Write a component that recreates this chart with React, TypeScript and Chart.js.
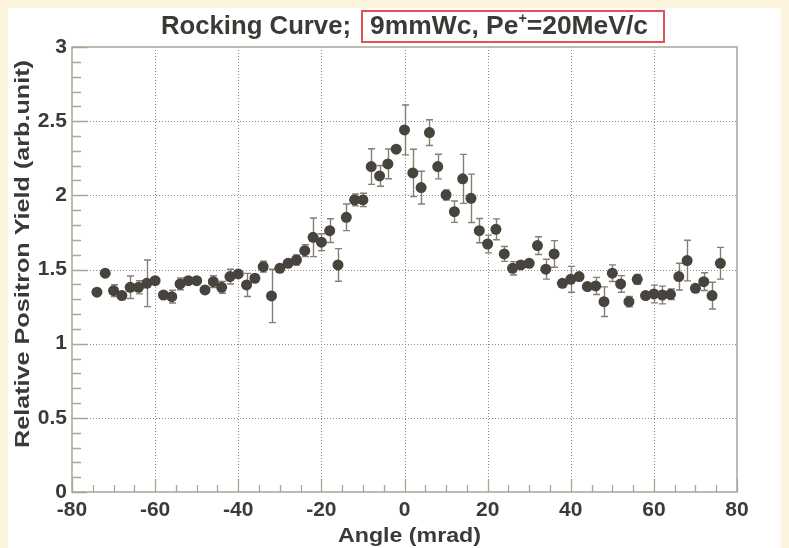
import { useEffect, useRef } from 'react';
import { Chart, registerables } from 'chart.js';

Chart.register(...registerables);

// ---- data ----
const angles = [
  -74, -72, -70, -68, -66, -64, -62, -60, -58, -56, -54, -52, -50, -48, -46, -44, -42, -40, -38,
  -36, -34, -32, -30, -28, -26, -24, -22, -20, -18, -16, -14, -12, -10, -8, -6, -4, -2, 0,
  2, 4, 6, 8, 10, 12, 14, 16, 18, 20, 22, 24, 26, 28, 30, 32, 34, 36, 38,
  40, 42, 44, 46, 48, 50, 52, 54, 56, 58, 60, 62, 64, 66, 68, 70, 72, 74, 76,
];
const yields = [
  1.347, 1.475, 1.357, 1.324, 1.38, 1.38, 1.407, 1.425, 1.328, 1.317, 1.403, 1.425, 1.425, 1.362, 1.418, 1.38, 1.452, 1.47, 1.396,
  1.441, 1.519, 1.322, 1.508, 1.542, 1.564, 1.627, 1.717, 1.684, 1.762, 1.531, 1.852, 1.969, 1.969, 2.194, 2.131, 2.212, 2.311, 2.441,
  2.151, 2.052, 2.423, 2.194, 2.003, 1.89, 2.111, 1.98, 1.762, 1.672, 1.771, 1.605, 1.508, 1.531, 1.542, 1.661, 1.502, 1.605, 1.407,
  1.434, 1.452, 1.385, 1.389, 1.283, 1.475, 1.403, 1.283, 1.434, 1.324, 1.335, 1.328, 1.333, 1.452, 1.56, 1.373, 1.418, 1.324, 1.542,
];
const errors = [
  0.02, 0.02, 0.04, 0.02, 0.076, 0.044, 0.157, 0.02, 0.02, 0.043, 0.04, 0.02, 0.02, 0.02, 0.04, 0.04, 0.05, 0.02, 0.078,
  0.02, 0.037, 0.18, 0.02, 0.02, 0.034, 0.04, 0.13, 0.057, 0.08, 0.11, 0.09, 0.04, 0.045, 0.12, 0.07, 0.1, 0.02, 0.168,
  0.16, 0.11, 0.087, 0.083, 0.034, 0.072, 0.165, 0.163, 0.082, 0.06, 0.07, 0.05, 0.045, 0.02, 0.02, 0.06, 0.067, 0.09, 0.02,
  0.087, 0.02, 0.02, 0.058, 0.1, 0.056, 0.056, 0.035, 0.033, 0.02, 0.06, 0.06, 0.036, 0.09, 0.137, 0.02, 0.06, 0.09, 0.107,
];
const xTickValues = [-80, -60, -40, -20, 0, 20, 40, 60, 80];
const yTickValues = [0, 0.5, 1, 1.5, 2, 2.5, 3];
const xMinorStep = 5;
const yMinorStep = 0.1;

const titleLead = 'Rocking Curve;';
const titleBoxed = '9mmWc, Pe';
const titleSup = '+';
const titleTail = '=20MeV/c';
const xTitle = 'Angle (mrad)';
const yTitle = 'Relative Positron Yield (arb.unit)';

// ---- styles ----
const FAMILY = '"Liberation Sans", Arial, Helvetica, sans-serif';
const TEXT = '#3b3a36';
const MARK = '#46443c';
const FRAME = '#aaa597';
const GRID = '#8e8c86';
const ERR = '#857f73';

type Part = { text: string; font: string; dy: number };

function drawStretched(ctx: CanvasRenderingContext2D, parts: Part[], x: number, y: number, targetW: number) {
  let w = 0;
  for (const p of parts) {
    ctx.font = p.font;
    w += ctx.measureText(p.text).width;
  }
  const sx = targetW / w;
  ctx.save();
  ctx.translate(x, y);
  ctx.scale(sx, 1);
  ctx.textAlign = 'left';
  ctx.textBaseline = 'alphabetic';
  let cx = 0;
  for (const p of parts) {
    ctx.font = p.font;
    ctx.fillText(p.text, cx, p.dy);
    cx += ctx.measureText(p.text).width;
  }
  ctx.restore();
  return sx;
}

const rootPlugin = {
  id: 'rootStyle',
  beforeDatasetsDraw(chart: any) {
    const { ctx, chartArea: a } = chart;
    const xs = chart.scales.x;
    const ys = chart.scales.y;
    ctx.save();
    // dotted grid
    ctx.strokeStyle = GRID;
    ctx.lineWidth = 1;
    ctx.setLineDash([1, 2]);
    ctx.beginPath();
    for (const v of xTickValues.slice(1, -1)) {
      const px = Math.round(xs.getPixelForValue(v)) + 0.5;
      ctx.moveTo(px, a.top);
      ctx.lineTo(px, a.bottom);
    }
    for (const v of yTickValues.slice(1, -1)) {
      const py = Math.round(ys.getPixelForValue(v)) + 0.5;
      ctx.moveTo(a.left, py);
      ctx.lineTo(a.right, py);
    }
    ctx.stroke();
    ctx.setLineDash([]);

    // inside ticks
    ctx.strokeStyle = FRAME;
    ctx.lineWidth = 1.3;
    ctx.beginPath();
    const x0 = xTickValues[0];
    const x1 = xTickValues[xTickValues.length - 1];
    for (let v = x0; v <= x1 + 1e-9; v += xMinorStep) {
      const major = xTickValues.includes(v);
      const px = Math.round(xs.getPixelForValue(v)) + 0.5;
      ctx.moveTo(px, a.bottom);
      ctx.lineTo(px, a.bottom - (major ? 13 : 7));
    }
    const y0 = yTickValues[0];
    const y1 = yTickValues[yTickValues.length - 1];
    for (let i = 0; y0 + i * yMinorStep <= y1 + 1e-9; i++) {
      const v = y0 + i * yMinorStep;
      const major = i % 5 === 0;
      const py = Math.round(ys.getPixelForValue(v)) + 0.5;
      ctx.moveTo(a.left, py);
      ctx.lineTo(a.left + (major ? 15 : 9), py);
    }
    ctx.stroke();

    // frame
    ctx.lineWidth = 1.5;
    ctx.strokeRect(a.left, a.top, a.right - a.left, a.bottom - a.top);

    // error bars
    ctx.strokeStyle = ERR;
    ctx.lineWidth = 1.4;
    ctx.beginPath();
    angles.forEach((ang, i) => {
      const px = Math.round(xs.getPixelForValue(ang)) + 0.5;
      const pt = ys.getPixelForValue(yields[i] + errors[i]);
      const pb = ys.getPixelForValue(yields[i] - errors[i]);
      ctx.moveTo(px, pt);
      ctx.lineTo(px, pb);
      ctx.moveTo(px - 3.5, pt);
      ctx.lineTo(px + 3.5, pt);
      ctx.moveTo(px - 3.5, pb);
      ctx.lineTo(px + 3.5, pb);
    });
    ctx.stroke();
    ctx.restore();
  },
  afterDraw(chart: any) {
    const { ctx } = chart;
    ctx.save();
    ctx.fillStyle = TEXT;
    // title
    const tf = `bold 26px ${FAMILY}`;
    drawStretched(ctx, [{ text: titleLead, font: tf, dy: 0 }], 153, 26, 190);
    drawStretched(
      ctx,
      [
        { text: titleBoxed, font: tf, dy: 0 },
        { text: titleSup, font: `bold 14px ${FAMILY}`, dy: -11 },
        { text: titleTail, font: tf, dy: 0 },
      ],
      362,
      26,
      278
    );
    // red box
    ctx.strokeStyle = '#e05352';
    ctx.lineWidth = 2;
    ctx.strokeRect(354, 3, 302, 31);

    // x title
    ctx.fillStyle = TEXT;
    drawStretched(ctx, [{ text: xTitle, font: `bold 21px ${FAMILY}`, dy: 0 }], 330, 534, 143);

    // y title
    ctx.save();
    ctx.translate(21, 440);
    ctx.rotate(-Math.PI / 2);
    drawStretched(ctx, [{ text: yTitle, font: `bold 21px ${FAMILY}`, dy: 0 }], 0, 0, 388);
    ctx.restore();
    ctx.restore();
  },
};

export default function App() {
  const ref = useRef<HTMLCanvasElement | null>(null);

  useEffect(() => {
    document.documentElement.style.overflow = 'hidden';
    document.body.style.background = '#fdf4de';
    const canvas = ref.current;
    if (!canvas) return;
    const tickFont = { family: FAMILY, size: 21, weight: 'bold' as const };
    const chart = new Chart(canvas, {
      type: 'scatter',
      data: {
        datasets: [
          {
            data: angles.map((a, i) => ({ x: a, y: yields[i] })),
            pointRadius: 5.5,
            pointHoverRadius: 5.5,
            pointBackgroundColor: MARK,
            pointBorderWidth: 0,
            showLine: false,
          },
        ],
      },
      options: {
        animation: false,
        responsive: false,
        devicePixelRatio: 1,
        events: [],
        layout: { padding: { top: 39, right: 44, left: 0, bottom: 0 } },
        plugins: {
          legend: { display: false },
          tooltip: { enabled: false },
          title: { display: false },
        },
        scales: {
          x: {
            type: 'linear',
            min: xTickValues[0],
            max: xTickValues[xTickValues.length - 1],
            afterBuildTicks: (s: any) => {
              s.ticks = xTickValues.map((v) => ({ value: v }));
            },
            afterFit: (s: any) => {
              s.height = 56;
            },
            grid: { display: false, drawTicks: false },
            border: { display: false },
            ticks: {
              padding: 6,
              autoSkip: false,
              maxRotation: 0,
              color: TEXT,
              font: tickFont,
              callback: (v: any) => String(v),
            },
          },
          y: {
            type: 'linear',
            min: yTickValues[0],
            max: yTickValues[yTickValues.length - 1],
            afterBuildTicks: (s: any) => {
              s.ticks = yTickValues.map((v) => ({ value: v }));
            },
            afterFit: (s: any) => {
              s.width = 64;
            },
            grid: { display: false, drawTicks: false },
            border: { display: false },
            ticks: {
              padding: 5,
              autoSkip: false,
              color: TEXT,
              font: tickFont,
              callback: (v: any) => String(v),
            },
          },
        },
      },
      plugins: [rootPlugin],
    });
    return () => chart.destroy();
  }, []);

  return (
    <canvas
      ref={ref}
      width={773}
      height={540}
      style={{ display: 'block', background: '#ffffff', width: 773, height: 540 }}
    />
  );
}
